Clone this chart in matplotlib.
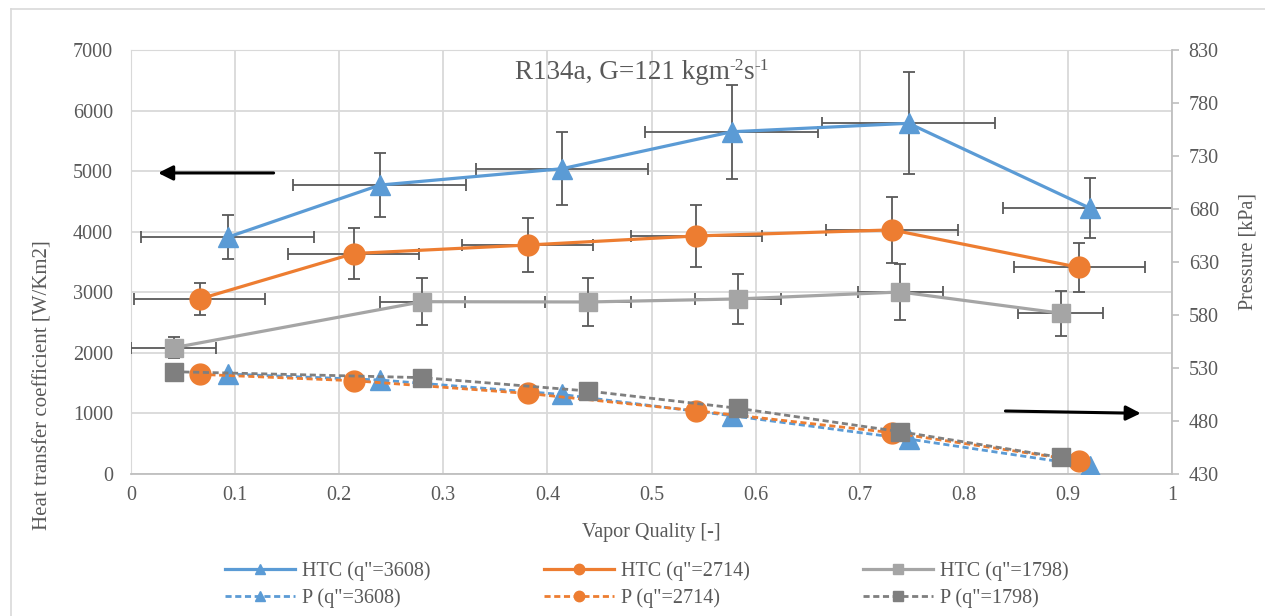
import matplotlib
matplotlib.use("Agg")
import matplotlib.pyplot as plt
from matplotlib.lines import Line2D

plt.rcParams['font.family'] = ['Liberation Serif', 'DejaVu Serif']

# ---------------- data ----------------
x_3608 = [0.093, 0.239, 0.414, 0.577, 0.747, 0.921]
htc_3608 = [3910, 4770, 5040, 5650, 5790, 4390]
htc_3608_err = [360, 535, 600, 780, 840, 495]
xq_err_3608 = 0.083

x_2714 = [0.066, 0.214, 0.381, 0.543, 0.731, 0.911]
htc_2714 = [2890, 3640, 3780, 3930, 4030, 3410]
htc_2714_err = [265, 420, 450, 505, 545, 400]
xq_err_2714 = 0.063

x_1798 = [0.041, 0.280, 0.439, 0.583, 0.739, 0.893]
htc_1798 = [2085, 2845, 2840, 2890, 3005, 2655]
htc_1798_err = [175, 390, 390, 420, 462, 370]
xq_err_1798 = 0.041

p_3608 = [524.3, 518.7, 505.0, 485.0, 463.0, 437.5]
p_2714 = [524.0, 518.0, 506.0, 489.7, 469.0, 442.5]
p_1798 = [526.5, 520.9, 508.3, 492.0, 469.9, 445.7]

x_ticks = [0, 0.1, 0.2, 0.3, 0.4, 0.5, 0.6, 0.7, 0.8, 0.9, 1]
x_tick_labels = ['0', '0.1', '0.2', '0.3', '0.4', '0.5', '0.6', '0.7', '0.8', '0.9', '1']
htc_ticks = [0, 1000, 2000, 3000, 4000, 5000, 6000, 7000]
p_ticks = [430, 480, 530, 580, 630, 680, 730, 780, 830]

labels_htc = ['HTC (q"=3608)', 'HTC (q"=2714)', 'HTC (q"=1798)']
labels_p = ['P (q"=3608)', 'P (q"=2714)', 'P (q"=1798)']

title_parts = [('R134a, G=121 kgm', False), ('-2', True), ('s', False), ('-1', True)]

# ---------------- style ----------------
BLUE = '#5b9bd5'
ORANGE = '#ed7d31'
GRAY = '#a5a5a5'
DGRAY = '#7f7f7f'
TXT = '#595959'
ERR = '#595959'
GRID = '#d9d9d9'

W, H = 1265, 616
fig = plt.figure(figsize=(W / 100, H / 100), dpi=100)
ax = fig.add_axes([131 / W, 1 - 474 / H, (1172 - 131) / W, (474 - 50) / H])
ax2 = ax.twinx()

# outer chart border (left & top visible)
fig.add_artist(Line2D([11 / W, 11 / W], [0, 1 - 9 / H], transform=fig.transFigure, color=GRID, lw=1.2))
fig.add_artist(Line2D([11 / W, 1], [1 - 9 / H, 1 - 9 / H], transform=fig.transFigure, color=GRID, lw=1.2))

ax.set_xlim(0, 1)
ax.set_ylim(0, 7000)
ax2.set_ylim(430, 830)

ax.set_xticks(x_ticks)
ax.set_xticklabels(x_tick_labels)
ax.set_yticks(htc_ticks)
ax2.set_yticks(p_ticks)

ax.grid(True, color=GRID, lw=1.3, zorder=0)
ax.set_axisbelow(True)

for s in ['top', 'left']:
    ax.spines[s].set_color(GRID)
ax.spines['bottom'].set_color('#bfbfbf')
ax.spines['right'].set_visible(False)
for s in ['top', 'left', 'bottom']:
    ax2.spines[s].set_visible(False)
ax2.spines['right'].set_color('#bfbfbf')
ax.spines['bottom'].set_linewidth(1.3)
ax2.spines['right'].set_linewidth(1.3)

ax.tick_params(axis='both', length=0, labelsize=14.5, labelcolor=TXT)
ax.tick_params(axis='y', pad=13)
ax.tick_params(axis='x', pad=9)
ax2.tick_params(axis='y', length=5, width=1.2, color='#bfbfbf', labelsize=14.5, labelcolor=TXT, pad=7)

# HTC series with error bars
series_htc = [
    (x_3608, htc_3608, htc_3608_err, xq_err_3608, BLUE, '^', 15, labels_htc[0]),
    (x_2714, htc_2714, htc_2714_err, xq_err_2714, ORANGE, 'o', 15, labels_htc[1]),
    (x_1798, htc_1798, htc_1798_err, xq_err_1798, GRAY, 's', 13.5, labels_htc[2]),
]
htc_handles = []
for xs, ys, ye, xe, c, m, ms, lab in series_htc:
    ax.errorbar(xs, ys, yerr=ye, xerr=xe, fmt='none', ecolor=ERR, elinewidth=1.3,
                capsize=4, capthick=1.3, zorder=3)
    h, = ax.plot(xs, ys, color=c, lw=2.3, marker=m, ms=ms, mec=c, mfc=c, zorder=4, label=lab)
    htc_handles.append(h)

# Pressure series
series_p = [
    (x_3608, p_3608, BLUE, '^', 14, labels_p[0]),
    (x_2714, p_2714, ORANGE, 'o', 15, labels_p[1]),
    (x_1798, p_1798, DGRAY, 's', 13.5, labels_p[2]),
]
p_handles = []
for xs, ys, c, m, ms, lab in series_p:
    h, = ax2.plot(xs, ys, color=c, lw=2.0, ls=(0, (2.2, 1.3)), marker=m, ms=ms,
                  mec=c, mfc=c, zorder=4, label=lab)
    p_handles.append(h)

# arrows
ax.annotate('', xy=(0.026, 4970), xytext=(0.137, 4970),
            arrowprops=dict(arrowstyle='-|>', color='black', lw=2.2, mutation_scale=22,
                            shrinkA=0, shrinkB=0), zorder=6)
ax.annotate('', xy=(0.970, 1002), xytext=(0.840, 1040),
            arrowprops=dict(arrowstyle='-|>', color='black', lw=2.2, mutation_scale=22,
                            shrinkA=0, shrinkB=0), zorder=6)

# axis labels
ax.set_xlabel('Vapor Quality [-]', fontsize=14.5, color=TXT)
ax.xaxis.set_label_coords(0.5, (474 - 533) / 424)
ax.xaxis.label.set_va('center')
ax.set_ylabel('Heat transfer coefficient [W/Km2]', fontsize=15, color=TXT)
ax.yaxis.set_label_coords((43 - 131) / 1041, (474 - 385) / 424)
ax.yaxis.label.set_va('center')
ax2.set_ylabel('Pressure [kPa]', fontsize=14.5, color=TXT)
ax2.yaxis.set_label_coords((1248 - 131) / 1041, (474 - 252) / 424)
ax2.yaxis.label.set_va('center')

# legend
handles = [htc_handles[0], p_handles[0], htc_handles[1], p_handles[1], htc_handles[2], p_handles[2]]
leg = fig.legend(handles=handles, labels=[h.get_label() for h in handles], ncol=3,
                 loc='center', bbox_to_anchor=(647 / W, 1 - 585 / H), frameon=False,
                 fontsize=14.5, handlelength=3.5, handletextpad=0.35, columnspacing=5.6,
                 labelspacing=0.35, markerscale=0.5)
for t in leg.get_texts():
    t.set_color(TXT)

# title with hyphen superscripts (built from parts)
fig.canvas.draw()
renderer = fig.canvas.get_renderer()
base_y = 1 - 79 / H
main_fs, sup_fs = 19.5, 12.5
sup_raise = 9.5 / H
texts = []
xcur = 0.0
for txt, sup in title_parts:
    t = fig.text(xcur, base_y + (sup_raise if sup else 0), txt, ha='left', va='baseline',
                 fontsize=sup_fs if sup else main_fs, color=TXT)
    bb = t.get_window_extent(renderer)
    texts.append((t, xcur))
    xcur += bb.width / W
shift = 642 / W - xcur / 2
for t, x0 in texts:
    t.set_x(x0 + shift)

fig.savefig('out.png', dpi=100)
